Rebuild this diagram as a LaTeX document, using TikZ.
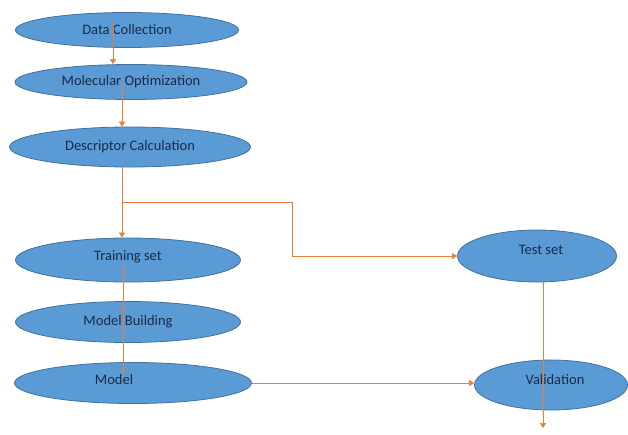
\documentclass[tikz,border=0pt]{standalone}
\usepackage{fontspec}
\setmainfont{Carlito}
\usetikzlibrary{shapes.geometric,arrows.meta,calc}
\definecolor{ellfill}{HTML}{5B9BD5}
\definecolor{elldraw}{HTML}{41719C}
\definecolor{txtcol}{HTML}{1B2A47}
\definecolor{arrcol}{HTML}{ED7D31}
\begin{document}
\begin{tikzpicture}[x=1pt,y=-1pt,
  stage/.style={ellipse, draw=elldraw, fill=ellfill, line width=0.8pt, inner sep=0pt, text=txtcol, font=\fontsize{14.5}{16}\selectfont},
  lbl/.style={text=txtcol, font=\fontsize{14.5}{16}\selectfont, inner sep=0pt},
  conn/.style={draw=arrcol, line width=0.55pt, -{Triangle[width=6pt,length=5pt]}},
  connsmall/.style={draw=arrcol, line width=0.55pt, -{Triangle[width=4.5pt,length=3.5pt]}}]
\useasboundingbox (0,0) rectangle (628,434);
\fill[white] (0,0) rectangle (628,434);
\node[stage, minimum width=223pt, minimum height=35pt] (dc) at (127,30) {Data Collection};
\node[stage, minimum width=232pt, minimum height=35pt] (mo) at (131,82) {Molecular Optimization};
\node[stage, minimum width=241pt, minimum height=40pt] (desc) at (130,147) {Descriptor Calculation};
\node[stage, minimum width=225pt, minimum height=44pt] (train) at (128,260) {};
\node[lbl] (traintxt) at (128,257) {Training set};
\node[stage, minimum width=225pt, minimum height=41pt] (mb) at (128,322) {Model Building};
\node[stage, minimum width=237pt, minimum height=41pt] (model) at (133,383) {};
\node[lbl] (modeltxt) at (114,380) {Model};
\node[stage, minimum width=159pt, minimum height=52pt] (test) at (537,256) {};
\node[lbl] (testtxt) at (541,250) {Test set};
\node[stage, minimum width=153pt, minimum height=50pt] (val) at (551,385) {};
\node[lbl] (valtxt) at (555,380) {Validation};
% connectors
\coordinate (a1) at (113,20);
\draw[conn] (a1) -- (a1 |- mo.north);
\coordinate (a2) at (122,84);
\draw[conn] (a2) -- (a2 |- desc.north);
\coordinate (a3) at (122,167);
\coordinate (br) at (122,202);
\coordinate (bx) at (292,202);
\draw[conn] (a3) -- (a3 |- train.north);
\draw[conn] (br) -- (bx) |- (test.west);
\coordinate (t1) at (123,263);
\coordinate (t2) at (123,313);
\coordinate (t3) at (123,374);
\draw[connsmall] (t1) -- (t2);
\draw[connsmall] (t2) -- (t3);
\draw[conn] (model.east) -- (model.east -| val.west);
\coordinate (v1) at (543,282);
\coordinate (v2) at (543,428);
\draw[conn] (v1) -- (v2);
\end{tikzpicture}
\end{document}
